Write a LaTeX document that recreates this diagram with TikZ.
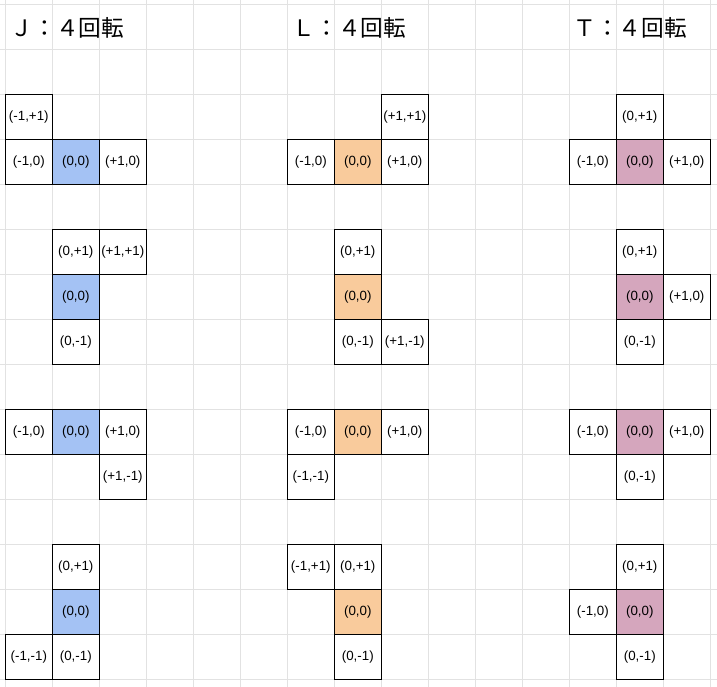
\documentclass[tikz,border=0pt]{standalone}
\usepackage{fontspec}
\setmainfont{Liberation Sans}
\newfontfamily\jpfont{Noto Sans CJK JP}
\usetikzlibrary{positioning}

\definecolor{jblue}{HTML}{A4C2F4}
\definecolor{lorange}{HTML}{F9CB9C}
\definecolor{tpink}{HTML}{D5A6BD}
\definecolor{gridgray}{HTML}{E2E2E2}

\tikzset{
  cell/.style={draw=black, line width=0.75pt, minimum width=35.25pt, minimum height=33.75pt,
    inner sep=0pt, outer sep=0pt, font=\fontsize{10}{12}\selectfont},
  title/.style={anchor=west, inner sep=0pt, font=\jpfont\fontsize{17}{20}\selectfont}
}

\begin{document}
\begin{tikzpicture}[x=35.25pt, y=-33.75pt]
        \useasboundingbox (-0.1128,-0.1044) rectangle (15.1426,15.162);
        \draw[gridgray, line width=0.75pt, xstep=35.25pt, ystep=33.75pt] (-0.1128,15.162) grid (15.1426,-0.1044);

        \node[title] (jtitle) at (0.11,0.52) {Ｊ：４回転};
        \node[title] (ltitle) at (6.11,0.52) {Ｌ：４回転};
        \node[title] (ttitle) at (12.08,0.52) {Ｔ：４回転};

        \node[cell, fill=jblue] (j1o) at (1.5,3.5) {(0,0)};
        \node[cell, left = 0pt of j1o] (j1w) {(-1,0)};
        \node[cell, right = 0pt of j1o] (j1e) {(+1,0)};
        \node[cell, above = 0pt of j1w] (j1nw) {(-1,+1)};

        \node[cell, fill=jblue] (j2o) at (1.5,6.5) {(0,0)};
        \node[cell, above = 0pt of j2o] (j2n) {(0,+1)};
        \node[cell, right = 0pt of j2n] (j2ne) {(+1,+1)};
        \node[cell, below = 0pt of j2o] (j2s) {(0,-1)};

        \node[cell, fill=jblue] (j3o) at (1.5,9.5) {(0,0)};
        \node[cell, left = 0pt of j3o] (j3w) {(-1,0)};
        \node[cell, right = 0pt of j3o] (j3e) {(+1,0)};
        \node[cell, below = 0pt of j3e] (j3se) {(+1,-1)};

        \node[cell, fill=jblue] (j4o) at (1.5,13.5) {(0,0)};
        \node[cell, above = 0pt of j4o] (j4n) {(0,+1)};
        \node[cell, below = 0pt of j4o] (j4s) {(0,-1)};
        \node[cell, left = 0pt of j4s] (j4sw) {(-1,-1)};

        \node[cell, fill=lorange] (l1o) at (7.5,3.5) {(0,0)};
        \node[cell, left = 0pt of l1o] (l1w) {(-1,0)};
        \node[cell, right = 0pt of l1o] (l1e) {(+1,0)};
        \node[cell, above = 0pt of l1e] (l1ne) {(+1,+1)};

        \node[cell, fill=lorange] (l2o) at (7.5,6.5) {(0,0)};
        \node[cell, above = 0pt of l2o] (l2n) {(0,+1)};
        \node[cell, below = 0pt of l2o] (l2s) {(0,-1)};
        \node[cell, right = 0pt of l2s] (l2se) {(+1,-1)};

        \node[cell, fill=lorange] (l3o) at (7.5,9.5) {(0,0)};
        \node[cell, left = 0pt of l3o] (l3w) {(-1,0)};
        \node[cell, right = 0pt of l3o] (l3e) {(+1,0)};
        \node[cell, below = 0pt of l3w] (l3sw) {(-1,-1)};

        \node[cell, fill=lorange] (l4o) at (7.5,13.5) {(0,0)};
        \node[cell, above = 0pt of l4o] (l4n) {(0,+1)};
        \node[cell, left = 0pt of l4n] (l4nw) {(-1,+1)};
        \node[cell, below = 0pt of l4o] (l4s) {(0,-1)};

        \node[cell, fill=tpink] (t1o) at (13.5,3.5) {(0,0)};
        \node[cell, above = 0pt of t1o] (t1n) {(0,+1)};
        \node[cell, left = 0pt of t1o] (t1w) {(-1,0)};
        \node[cell, right = 0pt of t1o] (t1e) {(+1,0)};

        \node[cell, fill=tpink] (t2o) at (13.5,6.5) {(0,0)};
        \node[cell, above = 0pt of t2o] (t2n) {(0,+1)};
        \node[cell, right = 0pt of t2o] (t2e) {(+1,0)};
        \node[cell, below = 0pt of t2o] (t2s) {(0,-1)};

        \node[cell, fill=tpink] (t3o) at (13.5,9.5) {(0,0)};
        \node[cell, left = 0pt of t3o] (t3w) {(-1,0)};
        \node[cell, right = 0pt of t3o] (t3e) {(+1,0)};
        \node[cell, below = 0pt of t3o] (t3s) {(0,-1)};

        \node[cell, fill=tpink] (t4o) at (13.5,13.5) {(0,0)};
        \node[cell, above = 0pt of t4o] (t4n) {(0,+1)};
        \node[cell, left = 0pt of t4o] (t4w) {(-1,0)};
        \node[cell, below = 0pt of t4o] (t4s) {(0,-1)};

        \end{tikzpicture}
\end{document}
